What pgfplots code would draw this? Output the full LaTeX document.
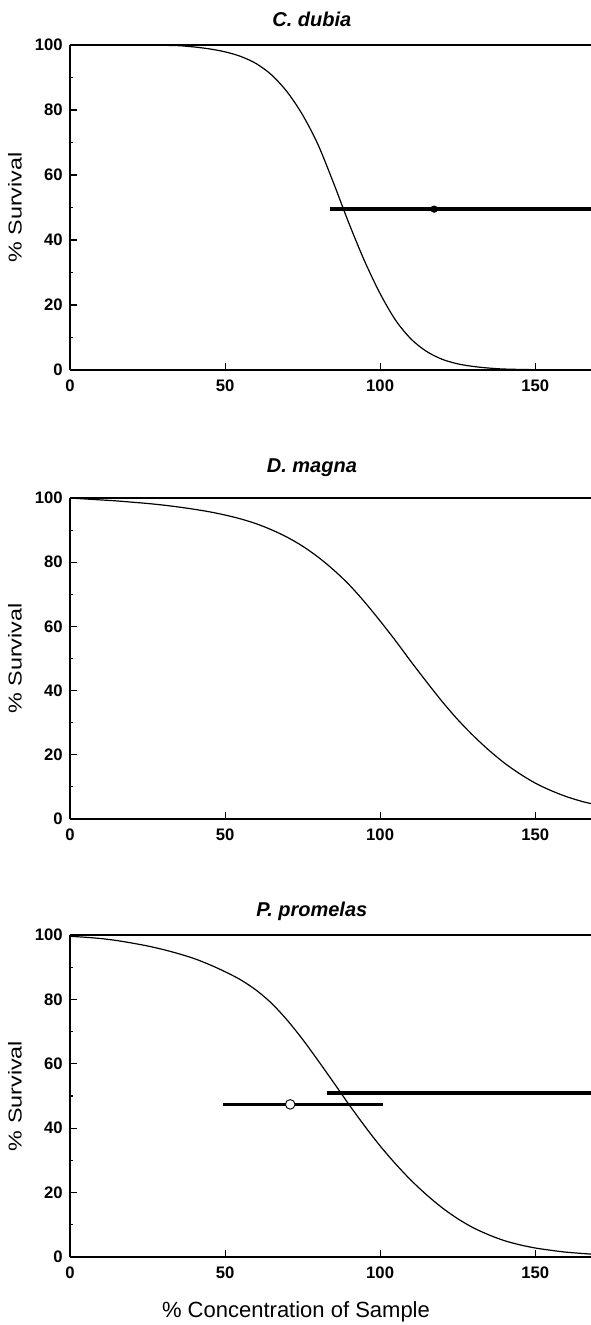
\documentclass[border=0pt]{standalone}
\usepackage{fontspec}
\setmainfont{Liberation Sans}
\usepackage{pgfplots}
\pgfplotsset{compat=1.18}

% 1 px of the reference = 0.75pt
\pgfplotsset{
  panel/.style={
    scale only axis, width=390.75pt,
    xmin=0, xmax=168, ymin=0, ymax=100,
    axis x line=bottom, axis y line=left,
    axis line style={-, line width=1.2pt},
    xtick={0,50,100,150}, ytick={0,20,...,100},
    minor y tick num=1,
    tick align=inside,
    major tick length=5pt, minor tick length=2.5pt,
    tick style={black, line width=0.8pt},
    ticklabel style={font=\fontsize{12.5}{14}\selectfont\bfseries},
    /pgf/number format/assume math mode=true,
    yticklabel style={xshift=-2pt},
    xticklabel style={yshift=-3.5pt},
    clip=false,
    anchor=south west,
  },
  curve/.style={black, line width=0.9pt, smooth, no marks},
  ci/.style={black, line width=2.6pt, no marks},
  ctrl/.style={black, line width=1.5pt, no marks},
}
\newcommand{\paneltitle}[2]{\node[font=\fontsize{15}{18}\selectfont\bfseries\itshape, anchor=base, yshift=#2] at (axis cs:78,100) {#1};}
\newcommand{\survlabel}{\node[rotate=90, font=\fontsize{14}{16}\selectfont] at (axis description cs:-0.1056,0.5) {\scalebox{1.25}[1]{\% Survival}};}

\begin{document}
\begin{tikzpicture}
\useasboundingbox (-52.5pt,0pt) rectangle (390.75pt,-993.75pt);

% C. dubia
\begin{axis}[panel, at={(0pt,-277.5pt)}, height=243.75pt]
  \addplot[ctrl] coordinates {(0,100) (168,100)};
  \addplot[curve] coordinates {
    (0,100) (10,100) (20,100) (30,99.9) (35,99.8) (40,99.4) (45,98.8)
    (50,97.9) (55,96.5) (60,94.3) (65,90.8) (70,85.6) (75,78.5) (80,69.3)
    (85,57.5) (90,45) (95,33.5) (100,23.5) (105,15.3) (110,9.5) (115,5.7)
    (120,3.3) (125,1.9) (130,1.1) (135,0.6) (140,0.3) (150,0.1) (168,0)
  };
  \addplot[ci] coordinates {(83.7,49.5) (168,49.5)};
  \addplot[only marks, mark=*, mark size=2.5pt, black] coordinates {(117.4,49.5)};
  \paneltitle{C. dubia}{14pt}
  \survlabel
\end{axis}

% D. magna
\begin{axis}[panel, at={(0pt,-614.25pt)}, height=240.75pt]
  \addplot[ctrl] coordinates {(0,100) (168,100)};
  \addplot[curve] coordinates {
    (0,100) (5,99.7) (10,99.4) (15,99.1) (20,98.7) (25,98.3) (30,97.8)
    (35,97.2) (40,96.5) (45,95.7) (50,94.7) (55,93.5) (60,92) (65,90.1)
    (70,87.8) (75,85) (80,81.6) (85,77.6) (90,73) (95,67.6) (100,61.7)
    (105,55.5) (110,49) (115,42.7) (120,36.6) (125,31) (130,26) (135,21.5)
    (140,17.5) (145,14.1) (150,11.2) (155,8.9) (160,7) (165,5.5) (168,4.8)
  };
  \paneltitle{D. magna}{19pt}
  \survlabel
\end{axis}

% P. promelas
\begin{axis}[panel, at={(0pt,-942.75pt)}, height=241.5pt]
  \addplot[ctrl] coordinates {(0,100) (168,100)};
  \addplot[curve] coordinates {
    (0,99.6) (5,99.3) (10,98.9) (15,98.3) (20,97.5) (25,96.6) (30,95.5)
    (35,94.2) (40,92.7) (45,90.8) (50,88.6) (55,86.1) (60,82.9) (65,78.8)
    (70,73.6) (75,67.6) (80,61) (85,54.2) (90,47.3) (95,40.7) (100,34.5)
    (105,28.9) (110,23.8) (115,19.3) (120,15.3) (125,11.9) (130,9.1)
    (135,6.9) (140,5.1) (145,3.8) (150,2.8) (155,2.1) (160,1.5) (168,0.9)
  };
  \addplot[ci] coordinates {(82.8,51) (168,51)};
  \addplot[ci] coordinates {(49.2,47.4) (100.9,47.4)};
  \addplot[only marks, mark=*, mark size=3.6pt, draw=black, fill=white, line width=0.7pt] coordinates {(71,47.4)};
  \paneltitle{P. promelas}{14pt}
  \survlabel
\end{axis}

\node[anchor=base, font=\fontsize{16.5}{20}\selectfont] at (169.5pt,-987.75pt) {\% Concentration of Sample};
\end{tikzpicture}
\end{document}
